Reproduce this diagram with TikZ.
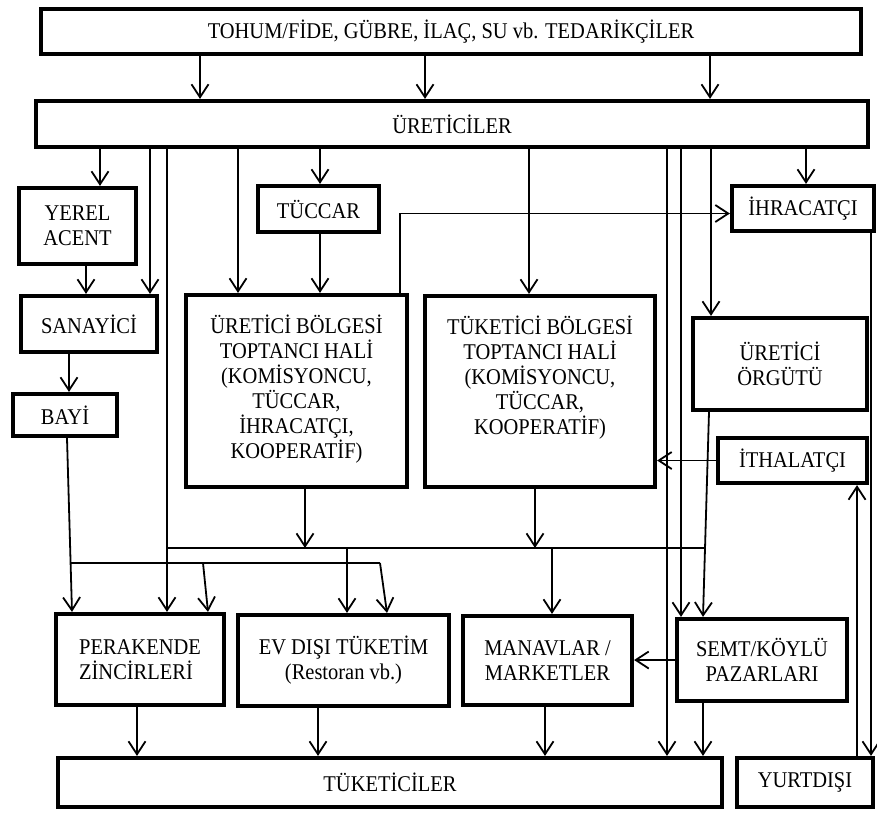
\documentclass[tikz,border=0pt]{standalone}
\usepackage{fontspec}
\setmainfont[FakeStretch=0.91]{Liberation Serif}
\usetikzlibrary{positioning, arrows.meta}

\begin{document}
\begin{tikzpicture}[x=1pt, y=-1pt, font=\fontsize{22.5}{25}\selectfont,
  box/.style={draw, line width=4.2pt, align=center, inner sep=0pt},
  yazi/.style={align=center, inner sep=0pt},
  ok/.style={line width=1.8pt, -{Straight Barb[length=13pt, width=17pt]}},
  hat/.style={line width=1.8pt}]
  \useasboundingbox (0,0) rectangle (877,812);

  \node[box, minimum width=820pt, minimum height=45pt] (ted) at (451,31.5) {TOHUM/FİDE, GÜBRE, İLAÇ, SU vb. TEDARİKÇİLER};
  \node[box, minimum width=832pt, minimum height=46pt] (ure) at (452,124) {ÜRETİCİLER};
  \node[box, minimum width=117pt, minimum height=76pt] (yerel) at (77.5,226) {YEREL\\ACENT};
  \node[box, minimum width=136pt, minimum height=56pt] (san) at (89,324) {SANAYİCİ};
  \node[box, minimum width=104pt, minimum height=42pt] (bayi) at (65,415) {BAYİ};
  \node[box, minimum width=121pt, minimum height=46pt] (tuccar) at (318.5,209) {TÜCCAR};
  \node[box, minimum width=221pt, minimum height=192pt] (ubth) at (296.5,391) {};
  \node[yazi, below=22pt of ubth.north] (ubthyazi) {ÜRETİCİ BÖLGESİ\\TOPTANCI HALİ\\(KOMİSYONCU,\\TÜCCAR,\\İHRACATÇI,\\KOOPERATİF)};
  \node[box, minimum width=230pt, minimum height=191pt] (tbth) at (540,391.5) {};
  \node[yazi, below=22pt of tbth.north] (tbthyazi) {TÜKETİCİ BÖLGESİ\\TOPTANCI HALİ\\(KOMİSYONCU,\\TÜCCAR,\\KOOPERATİF)};
  \node[box, minimum width=142pt, minimum height=45pt] (ihr) at (803,208.5) {İHRACATÇI};
  \node[box, minimum width=174pt, minimum height=92pt] (org) at (780,364) {ÜRETİCİ\\ÖRGÜTÜ};
  \node[box, minimum width=149pt, minimum height=45pt] (ith) at (792.5,460.5) {İTHALATÇI};
  \node[box, minimum width=168pt, minimum height=91pt, align=left] (per) at (140,659.5) {PERAKENDE\\ZİNCİRLERİ};
  \node[box, minimum width=211pt, minimum height=91pt] (evd) at (343.5,660.5) {EV DIŞI TÜKETİM\\(Restoran vb.)};
  \node[box, minimum width=169pt, minimum height=89pt] (man) at (547.5,660.5) {MANAVLAR /\\MARKETLER};
  \node[box, minimum width=170pt, minimum height=82pt] (semt) at (762,660) {SEMT/KÖYLÜ\\PAZARLARI};
  \node[box, minimum width=664pt, minimum height=49pt] (tuk) at (390,782.5) {TÜKETİCİLER};
  \node[box, minimum width=136pt, minimum height=49pt] (yurt) at (805,782.5) {YURTDIŞI};

  \coordinate (h1sol) at (167,548);
  \coordinate (h1sag) at (705,548);
  \coordinate (h2sol) at (70,563);
  \coordinate (h2sag) at (380,563);

  \foreach \x in {200,425,710}
    \draw[ok] (ted.south -| \x,0) -- (ure.north -| \x,0);
  \draw[ok] (ure.south -| 100,0) -- (yerel.north -| 100,0);
  \draw[ok] (ure.south -| 150,0) -- (san.north -| 150,0);
  \draw[ok] (ure.south -| 167,0) -- (per.north -| 167,0);
  \draw[ok] (ure.south -| 238,0) -- (ubth.north -| 238,0);
  \draw[ok] (ure.south -| 320,0) -- (tuccar.north -| 320,0);
  \draw[ok] (tuccar.south -| 320,0) -- (ubth.north -| 320,0);
  \draw[ok] (ure.south -| 529,0) -- (tbth.north -| 529,0);
  \draw[ok] (ure.south -| 667,0) -- (tuk.north -| 667,0);
  \draw[ok] (ure.south -| 681,0) -- (semt.north -| 681,0);
  \draw[ok] (ure.south -| 711,0) -- (org.north -| 711,0);
  \draw[ok] (ure.south -| 806,0) -- (ihr.north -| 806,0);
  \draw[ok] (yerel.south -| 86,0) -- (san.north -| 86,0);
  \draw[ok] (san.south -| 69,0) -- (bayi.north -| 69,0);
  \draw[ok] (bayi.south -| 67,0) -- (per.north -| 72,0);
  \draw[ok] (ubth.north -| 400,0) |- ([yshift=-5pt]ihr.west);
  \draw[ok] (ith.west) -- (tbth.east |- ith.west);

  \draw[hat] (h1sol) -- (h1sag);
  \draw[hat] (h2sol) -- (h2sag);
  \draw[ok] (ubth.south -| 305,0) -- (h1sol -| 305,0);
  \draw[ok] (tbth.south -| 535,0) -- (h1sol -| 535,0);
  \draw[ok] (org.south -| 709,0) -- (semt.north -| 703,0);
  \draw[ok] (h1sol -| 347,0) -- (evd.north -| 347,0);
  \draw[ok] (h1sol -| 552,0) -- (man.north -| 552,0);
  \draw[ok] (h2sol -| 203,0) -- (per.north -| 208,0);
  \draw[ok] (h2sag) -- (evd.north -| 387,0);

  \draw[ok] (per.south -| 137,0) -- (tuk.north -| 137,0);
  \draw[ok] (evd.south -| 318,0) -- (tuk.north -| 318,0);
  \draw[ok] (man.south -| 545,0) -- (tuk.north -| 545,0);
  \draw[ok] (semt.south -| 703,0) -- (tuk.north -| 703,0);
  \draw[ok] (semt.west) -- (man.east |- semt.west);
  \draw[ok] (ihr.south -| 871,0) -- (yurt.north -| 871,0);
  \draw[ok] (yurt.north -| 857,0) -- (ith.south -| 857,0);
\end{tikzpicture}
\end{document}
